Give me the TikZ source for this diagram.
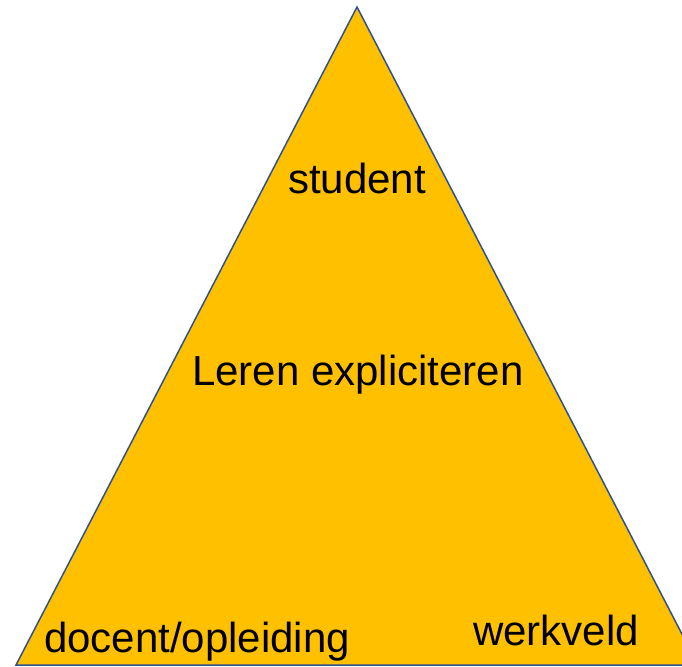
\documentclass[tikz,border=0pt]{standalone}
\usepackage{fontspec}
\setmainfont{Liberation Sans}
\definecolor{gold}{HTML}{FFC000}
\definecolor{edge}{HTML}{2F528F}
\begin{document}
\begin{tikzpicture}[x=1pt,y=-1pt,
  lbl/.style={font=\fontsize{42}{48}\selectfont, text=black, inner sep=0pt, anchor=base}]
\useasboundingbox (0,0) rectangle (682,666);
\clip (0,0) rectangle (682,666);
\coordinate (top) at (357,7);
\coordinate (bl) at (16,665);
\coordinate (br) at (698,665);
\filldraw[fill=gold, draw=edge, line width=1.5pt, line join=miter] (top) -- (br) -- (bl) -- cycle;
\node[lbl] (student) at (357,193) {student};
\node[lbl] (leren) at (358,385) {Leren expliciteren};
\node[lbl] (docent) at (197,652) {docent/opleiding};
\node[lbl] (werkveld) at (556,645) {werkveld};
\end{tikzpicture}
\end{document}
